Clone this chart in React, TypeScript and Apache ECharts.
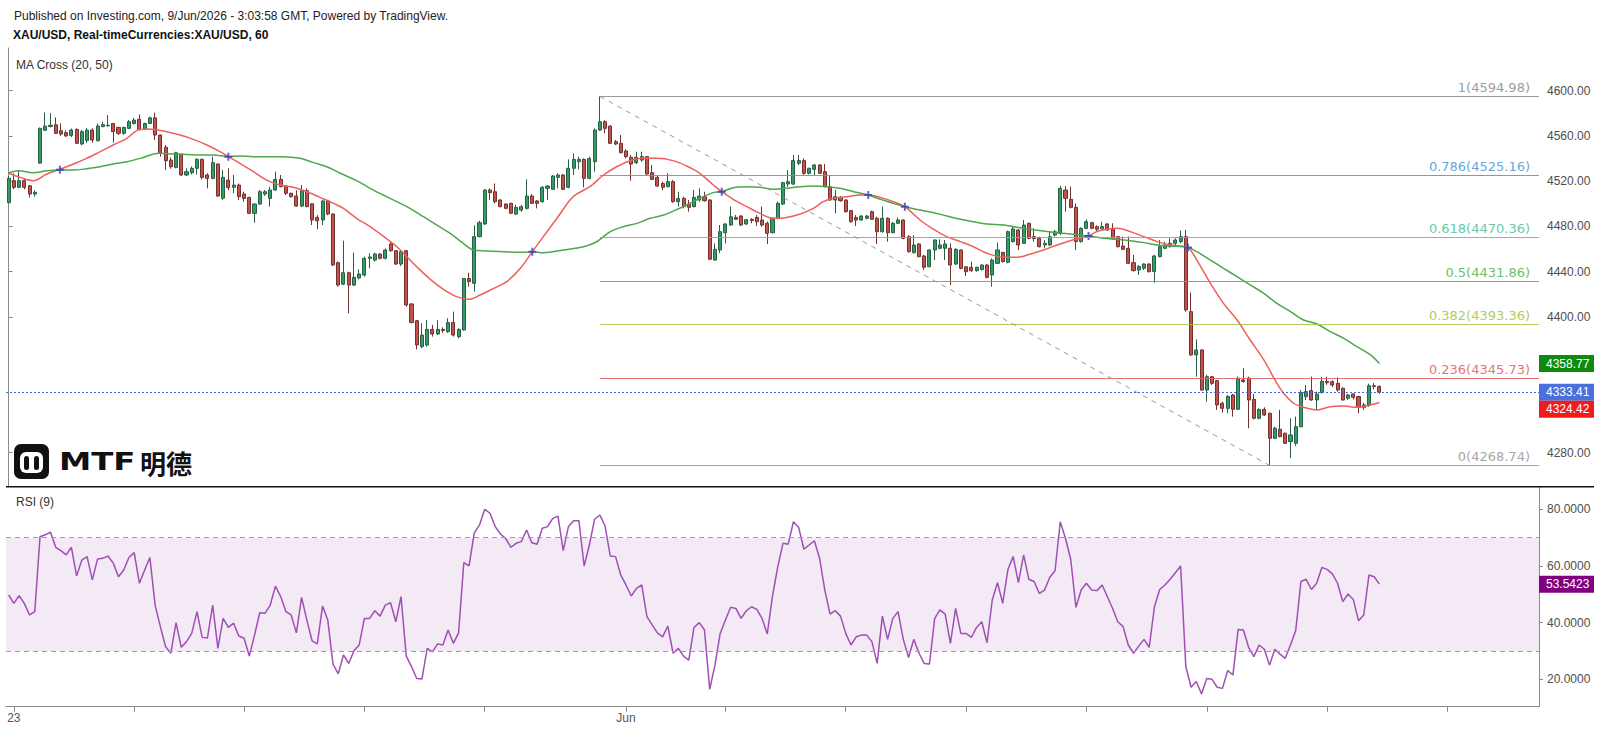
import React, { useEffect, useRef } from 'react';
import * as echarts from 'echarts';

// ---------- layout constants ----------
const SLOT_COUNT = 293; // hourly slots across the plot (incl. empty right margin)
const X_TICKS = [1, 24, 45, 68, 91, 118, 137, 160, 183, 206, 229, 252, 275];
const X_LABELS: Record<number, string> = { 1: '23', 118: 'Jun' };

const PRICE_MIN = 4249.94;
const PRICE_MAX = 4637.75;
const PRICE_TICKS = [4280, 4400, 4440, 4480, 4520, 4560, 4600];
const RSI_MIN = 10.33;
const RSI_MAX = 87.98;
const RSI_TICKS = [20, 40, 60, 80];

// ---------- data ----------
// hourly candles: [open, high, low, close]
const OHLC: number[][] = [
  [4501, 4524.6, 4500.5, 4522.5], [4520.5, 4527, 4512.8, 4514.6], [4514.6, 4529.9, 4513.7, 4520.5], [4520.5, 4522.5, 4512.8, 4514.6],
  [4516, 4516.5, 4505.7, 4508.7], [4508.7, 4512, 4506.3, 4510.2], [4536, 4567.5, 4535.5, 4566.7], [4565, 4580.6, 4564.5, 4568.7],
  [4568.3, 4580, 4567.6, 4569.5], [4569.9, 4576.4, 4561.7, 4562.3], [4564.6, 4571, 4560, 4561.7], [4562.9, 4565, 4559.3, 4560],
  [4560.5, 4566.6, 4559, 4565.2], [4565.8, 4566.7, 4552.9, 4553.5], [4552.9, 4565.2, 4551.7, 4563.8], [4556, 4567, 4554, 4565],
  [4565.2, 4566.7, 4554, 4556.4], [4555.8, 4571, 4555.3, 4568.8], [4568.3, 4572.6, 4567.6, 4570], [4569, 4578.5, 4568, 4569.5],
  [4571, 4571.5, 4554, 4563.8], [4567.6, 4568, 4560.8, 4562.3], [4562.3, 4568, 4561, 4567.6], [4566.7, 4574, 4566, 4572.6],
  [4571, 4576, 4570, 4574], [4574.7, 4579, 4565, 4565.8], [4565.8, 4571.7, 4565, 4571], [4571, 4577, 4570.5, 4576],
  [4576, 4580.6, 4556.4, 4560.8], [4560.8, 4561.2, 4541.7, 4544.6], [4550, 4552, 4530, 4538.1], [4538.7, 4541, 4531, 4532.8],
  [4532.2, 4546, 4531.4, 4545.2], [4544, 4544.6, 4524.6, 4525.5], [4525.5, 4531.4, 4524.6, 4528.4], [4527.5, 4533, 4526, 4531.4],
  [4531.4, 4540.2, 4526, 4539.3], [4539.3, 4540, 4521.6, 4523.4], [4525.5, 4527, 4513.7, 4522.5], [4522.5, 4541.7, 4521.6, 4536.4],
  [4535.2, 4535.8, 4506.3, 4506.9], [4505, 4530, 4503.4, 4523.4], [4521, 4531.4, 4512.2, 4514.3], [4514.6, 4525.5, 4509.3, 4516.6],
  [4516.6, 4518, 4503.4, 4506.3], [4508.7, 4510.7, 4501.9, 4504.8], [4505.7, 4506.3, 4491, 4491.6], [4491.6, 4500.4, 4483.3, 4499.8],
  [4499.8, 4512.2, 4499, 4510.7], [4508.7, 4512.2, 4507, 4510.7], [4504.8, 4515, 4497.5, 4512.2], [4512.2, 4528.4, 4511.6, 4521.6],
  [4521.6, 4525.5, 4514.6, 4515.2], [4515.7, 4516.6, 4507.8, 4509.3], [4509.3, 4509.9, 4505.7, 4506.3], [4506.9, 4512, 4497.5, 4498],
  [4498, 4516.6, 4497, 4511.6], [4511.6, 4513.7, 4497, 4497.5], [4500, 4500.5, 4481.3, 4485.7], [4488, 4490, 4477.5, 4485],
  [4485.7, 4503, 4481.3, 4502.5], [4502.5, 4503, 4490, 4491], [4491, 4491.6, 4445, 4446], [4448, 4449, 4426.8, 4428.2],
  [4429, 4467.4, 4428.2, 4439.1], [4439.1, 4440, 4403.2, 4428.2], [4428.2, 4456.8, 4427.3, 4435], [4434.5, 4442, 4433.2, 4438],
  [4437, 4453.3, 4435.6, 4451.8], [4451.8, 4456.2, 4443, 4453], [4450.3, 4456.8, 4448.9, 4455.6], [4455.6, 4456.2, 4450.9, 4451.8],
  [4451.8, 4460.6, 4450.9, 4459.2], [4464.5, 4466.5, 4457.7, 4458.6], [4458.6, 4459.2, 4445.9, 4446.8], [4446.8, 4459.2, 4445, 4457.7],
  [4458.6, 4459.2, 4409.1, 4410.6], [4411.5, 4412, 4394.4, 4395], [4396.7, 4397.3, 4371.4, 4375.2], [4373.7, 4394.4, 4372.3, 4384],
  [4375.2, 4397.3, 4373.7, 4389], [4389, 4392.9, 4382.6, 4384.9], [4385, 4397.3, 4384, 4389], [4389, 4390.8, 4386, 4388],
  [4387, 4398.8, 4386, 4395], [4395, 4404.7, 4382.6, 4384], [4382.6, 4390, 4381, 4389], [4388.5, 4434.5, 4388, 4434],
  [4434, 4439, 4426.8, 4431.2], [4429.7, 4481, 4422.4, 4471], [4471, 4485.1, 4470.4, 4483.3], [4482.2, 4512.8, 4481.3, 4512.2],
  [4512.2, 4513.7, 4503.4, 4509.9], [4510.7, 4518, 4500.4, 4501.9], [4503.4, 4504, 4496.9, 4497.5], [4499.8, 4500.4, 4495.1, 4496],
  [4500.4, 4501, 4491, 4491.6], [4491, 4499, 4490.1, 4496.9], [4494.5, 4499, 4493, 4497.5], [4496, 4521.6, 4495, 4506.9],
  [4506.9, 4508.7, 4499.8, 4500.4], [4502.5, 4503.4, 4496, 4500.4], [4501.9, 4515.7, 4501, 4514.6], [4513.7, 4516.6, 4503.4, 4515.7],
  [4512.8, 4525.5, 4512.2, 4524.6], [4523.4, 4527, 4513.7, 4525.5], [4525.5, 4526.4, 4512.2, 4512.8], [4514.6, 4539.3, 4513.7, 4531.4],
  [4531.4, 4544.6, 4525.5, 4539.3], [4537.2, 4541.7, 4530.5, 4539.3], [4539.3, 4540.2, 4514.6, 4522.5], [4522.5, 4541.7, 4521.6, 4540],
  [4537.2, 4566.7, 4528.4, 4565.2], [4565.2, 4594.98, 4564.6, 4572.6], [4572.6, 4574, 4562.3, 4566.7], [4568.7, 4569.5, 4552.9, 4553.5],
  [4554.9, 4556.4, 4552, 4552.9], [4553.5, 4560.8, 4544.6, 4545.2], [4546.7, 4548.2, 4540.2, 4541.7], [4541.1, 4543.1, 4520.5, 4535.2],
  [4536.4, 4546.1, 4535.2, 4541.1], [4538.7, 4546.1, 4537.2, 4541.7], [4541.7, 4542.3, 4525.5, 4526.4], [4527.5, 4534.3, 4521, 4521.6],
  [4523.4, 4524.6, 4515.2, 4515.7], [4518, 4519.6, 4512.2, 4514.6], [4515.2, 4527, 4514.6, 4519.6], [4519.6, 4521, 4501, 4501.9],
  [4501.9, 4510.7, 4497.5, 4504.8], [4504.8, 4506.3, 4496, 4497.5], [4499.8, 4503.4, 4493, 4496.9], [4497.5, 4512.2, 4496.9, 4505.7],
  [4503.4, 4513.7, 4501.9, 4506.9], [4506.3, 4510.7, 4501.9, 4502.8], [4503.4, 4504, 4450.3, 4451], [4450.3, 4465, 4449.8, 4459.8],
  [4459.2, 4481.3, 4456.3, 4475.4], [4474.5, 4482.8, 4465.1, 4482.2], [4481.3, 4497.5, 4480.4, 4488.6], [4488, 4490.1, 4485.7, 4486.3],
  [4489.2, 4490.1, 4480.4, 4481.3], [4482.2, 4486.3, 4481.3, 4486], [4486.3, 4487.2, 4482.8, 4485.2], [4488, 4490, 4480.4, 4484.2],
  [4485.7, 4497.5, 4479.8, 4481.3], [4482.8, 4484.2, 4464.5, 4473.9], [4474.5, 4488, 4473.9, 4487.2], [4487.2, 4501.9, 4486.3, 4500.4],
  [4499.8, 4519.6, 4499, 4518.7], [4517.5, 4529.9, 4515, 4519.6], [4517.5, 4543.2, 4516.6, 4538.2], [4535.8, 4543.2, 4534.3, 4538.2],
  [4538.2, 4540.2, 4525.5, 4527], [4527, 4532, 4526, 4531.4], [4530.5, 4535.2, 4525.5, 4534.3], [4534.3, 4535.2, 4526.4, 4527],
  [4528.4, 4535.2, 4514.6, 4515.2], [4515.2, 4524.6, 4502.8, 4503.4], [4503.4, 4512.2, 4491.6, 4506.3], [4505.7, 4506.9, 4501.9, 4502.8],
  [4503.4, 4504, 4492.2, 4493.1], [4494, 4494.5, 4483.3, 4484.2], [4488, 4490.1, 4480.4, 4485.7], [4485.7, 4490, 4485, 4489.2],
  [4487.2, 4490.1, 4486.3, 4489.2], [4493.1, 4494, 4485.7, 4486.3], [4487.2, 4488.6, 4464.5, 4475.4], [4475.4, 4497.5, 4474.5, 4487.2],
  [4487.2, 4488, 4466.6, 4474.5], [4474.5, 4484, 4474, 4482.8], [4482.8, 4488, 4482.2, 4485.7], [4485.7, 4486.3, 4468.6, 4469.5],
  [4471, 4472.4, 4456.8, 4457.7], [4456.8, 4472.4, 4456.3, 4463.6], [4464.5, 4465.1, 4452.7, 4453.3], [4453.9, 4454.8, 4441.5, 4443.9],
  [4444.4, 4459.8, 4443.9, 4459.2], [4459.2, 4468.6, 4450.3, 4468], [4460.7, 4468.6, 4459.8, 4463.6], [4460.7, 4468, 4450.3, 4464.5],
  [4460.7, 4465.1, 4428.2, 4445.9], [4446.8, 4460.7, 4445.9, 4459.8], [4459.2, 4459.8, 4442.1, 4443], [4444.4, 4444.9, 4436.2, 4440],
  [4443.9, 4448.9, 4440, 4440.9], [4440.9, 4444.4, 4440, 4443.9], [4442, 4446.5, 4441, 4445.9], [4445.9, 4446.8, 4434.1, 4435],
  [4437.1, 4451.8, 4426.8, 4450.3], [4447.4, 4465.7, 4446.8, 4459.2], [4457, 4457.7, 4448, 4449], [4448.3, 4476.3, 4447.4, 4475.4],
  [4466.6, 4479.8, 4465.7, 4477.8], [4476.9, 4477.5, 4459.2, 4463.6], [4465, 4485.7, 4464.5, 4481.3], [4482.8, 4483.3, 4468.6, 4469.5],
  [4471, 4478.3, 4466.6, 4469.3], [4469.5, 4471, 4461.5, 4462.1], [4463.6, 4468, 4460.7, 4465.1], [4463.6, 4475.4, 4462.7, 4471],
  [4472.4, 4476.9, 4471, 4475.4], [4473.9, 4515.7, 4472.4, 4513.7], [4512.2, 4515.7, 4493.1, 4504.9], [4504, 4515.2, 4496, 4496.9],
  [4496.9, 4500.4, 4459.2, 4466.6], [4466.6, 4479.2, 4465.7, 4478.3], [4478.3, 4486.3, 4477.5, 4484.2], [4483.3, 4484.2, 4477.5, 4478.3],
  [4479.8, 4481, 4476, 4477.5], [4477.9, 4484.2, 4477.5, 4479.9], [4482.2, 4482.8, 4476, 4476.9], [4477.5, 4482.8, 4468.6, 4469.5],
  [4471, 4471.6, 4461.5, 4462.1], [4462.7, 4471, 4459.2, 4459.8], [4460.7, 4471, 4446.8, 4447.4], [4448, 4454.8, 4440.1, 4441],
  [4441.5, 4445.9, 4437.1, 4444.5], [4443, 4447.4, 4441.5, 4446.8], [4446.8, 4447.4, 4439.2, 4440.1], [4440.1, 4454.8, 4430.3, 4453.9],
  [4453.3, 4468, 4452.7, 4462.1], [4460.7, 4466.6, 4459.8, 4463.6], [4462.1, 4469.5, 4461.5, 4465.1], [4465.1, 4469.5, 4463.6, 4468],
  [4466.6, 4476.3, 4465.1, 4471], [4471, 4476.9, 4404.7, 4406.2], [4404.7, 4421.5, 4365.5, 4366.4], [4366.4, 4380.2, 4347.2, 4370.8],
  [4370.8, 4371.4, 4334.8, 4335.4], [4335.4, 4348.8, 4325.1, 4347.2], [4347.2, 4347.8, 4339.9, 4341.3], [4343.7, 4344.3, 4317.8, 4322.2],
  [4323.7, 4325.1, 4315.4, 4319.2], [4319.2, 4331, 4314.8, 4329.6], [4331, 4332, 4311.9, 4318.3], [4318.3, 4347.2, 4317.8, 4345.8],
  [4344.3, 4354.6, 4341.9, 4342.8], [4345.8, 4347.2, 4301.6, 4326.6], [4327.2, 4332, 4309.5, 4310.4], [4310.4, 4319.2, 4309.5, 4318.3],
  [4318.3, 4320.1, 4312.5, 4313.3], [4314.8, 4315.4, 4268.74, 4292.7], [4292.7, 4303, 4292, 4301.6], [4300.7, 4317.8, 4293.6, 4294.2],
  [4297.2, 4297.8, 4287.7, 4288.3], [4289.8, 4310.4, 4275.1, 4295.7], [4288.3, 4311.9, 4286, 4303], [4303, 4335.4, 4302.4, 4333.1],
  [4329.6, 4339.9, 4326.6, 4334], [4334.9, 4347.2, 4326, 4326.6], [4326.6, 4334, 4317.8, 4331.9], [4333.1, 4347.2, 4332.5, 4343.1],
  [4343.1, 4347.2, 4340, 4341.9], [4342.8, 4344, 4338, 4339.9], [4341.3, 4346.6, 4334, 4335.4], [4336.9, 4337.8, 4326, 4326.6],
  [4328.1, 4332, 4326.6, 4331], [4331.9, 4332.5, 4327, 4329], [4329.6, 4330.3, 4314.8, 4320.1], [4320.1, 4324, 4317.8, 4322.2],
  [4322.2, 4341, 4320.5, 4339.2], [4339.2, 4341.5, 4336, 4338.5], [4338.5, 4339.5, 4332, 4333.41],
];

// moving averages: [bar number (1-based), value]
const MA20_POINTS: number[][] = [
  [1, 4527], [3.2, 4523.4], [5.7, 4520.5], [8.3, 4526.4], [10.8, 4530.5], [13.4, 4535.2], [15.9, 4540.2], [18.5, 4546.1],
  [21, 4552], [23.6, 4557.9], [25.5, 4564.7], [27.4, 4566.1], [29, 4565.8], [31.2, 4563.8], [33.8, 4560.8], [36.3, 4557],
  [38.9, 4552], [41.4, 4546.1], [43, 4541.7], [45.2, 4535.8], [47.8, 4528.4], [50.3, 4521], [52.9, 4516.6], [55.4, 4514.6],
  [58, 4510.7], [60.5, 4505.7], [63.1, 4500.4], [65, 4496], [67.5, 4487.2], [70.1, 4479.8], [72.6, 4471.4], [75.2, 4462.1],
  [77.1, 4453.3], [79, 4444.4], [81.6, 4433.2], [84.1, 4424.4], [86.6, 4418], [88.9, 4415.6], [91.1, 4419.4], [93.7, 4425.3],
  [96.2, 4431.2], [98.8, 4443], [101.1, 4457.7], [103.2, 4471], [105.8, 4487.2], [108.3, 4503.4], [109.6, 4508.7], [112.1, 4515.2],
  [114.7, 4525.5], [117.2, 4532.8], [119.8, 4538.1], [122.3, 4540.2], [124.9, 4540.2], [128, 4538.2], [130.6, 4533.4], [133.1, 4527],
  [135.7, 4516.6], [137.3, 4510.7], [139.5, 4504], [142.1, 4497.5], [144.6, 4491.6], [147.2, 4487.2], [149.7, 4488], [152.3, 4491],
  [154.8, 4496], [156.7, 4501.9], [158.6, 4504.9], [161.2, 4506.3], [163.7, 4507.8], [165.3, 4507.8], [167.6, 4505.7], [170.1, 4501.9],
  [172.3, 4497.5], [175.2, 4485.7], [177.8, 4477.4], [180.3, 4471], [182.9, 4466.6], [185.4, 4462.1], [188, 4456.3], [191.2, 4452.7],
  [193.7, 4452.7], [196.3, 4455.6], [198.8, 4459.2], [201.4, 4463.6], [203.9, 4467.4], [205.8, 4469.5], [207.4, 4471.6], [209, 4475.4],
  [210.9, 4477.5], [212.9, 4478.3], [215.4, 4475.4], [218, 4471], [220.5, 4466.6], [223, 4463.6], [225, 4462.7], [226.4, 4461.5],
  [228.1, 4450.3], [230.7, 4429.7], [233.2, 4412], [235.8, 4397.3], [238.3, 4379.6], [240.9, 4362], [243.4, 4341.3], [244.7, 4332.5],
  [246.6, 4323.7], [248.5, 4320.1], [251.1, 4317.8], [253.6, 4320.7], [256.2, 4321.3], [258.7, 4320.1], [261.3, 4322.2], [263, 4324.42],
];
const MA50_POINTS: number[][] = [
  [1, 4527.5], [2.9, 4529.3], [5.7, 4527.5], [8.3, 4529.3], [10.8, 4529.9], [13.4, 4529.9], [15.9, 4531], [18.5, 4532.8],
  [21, 4535.2], [23.6, 4537.2], [26.1, 4540.2], [28.7, 4544], [29.9, 4544.6], [32.5, 4544], [35, 4543.7], [37.6, 4543.1],
  [40.1, 4543.1], [43, 4541.7], [45.2, 4542.3], [47.8, 4541.7], [50.3, 4541.7], [53.5, 4541.7], [56.7, 4540.2], [59.3, 4536.4],
  [61.8, 4532.8], [64.4, 4527], [67.5, 4520.5], [70.1, 4513.7], [72.6, 4507.8], [75.2, 4501.9], [77.7, 4496], [80.3, 4488.6],
  [82.8, 4481.3], [85.4, 4473.9], [87.9, 4465.1], [89.8, 4459.2], [92.4, 4458.3], [95.6, 4457.7], [99.4, 4457.1], [101.1, 4457.7],
  [103.2, 4456.8], [107, 4459.2], [110.9, 4462.1], [113.4, 4466.5], [116, 4475.4], [118.5, 4479.8], [121.1, 4482.7], [123.6, 4487.2],
  [126.2, 4490.1], [128, 4493.5], [130.6, 4499], [133.1, 4504.9], [135.7, 4509.9], [137.3, 4510.7], [139.5, 4514.3], [142.1, 4515.2],
  [144.6, 4514.6], [147.2, 4512.8], [149.7, 4513.7], [152.3, 4515.2], [154.8, 4515.8], [157.4, 4515.2], [159.9, 4513.7], [162.5, 4510.7],
  [165.3, 4507.8], [167.6, 4504], [170.1, 4500.4], [172.3, 4497.5], [175.2, 4494.5], [177.8, 4492.2], [180.3, 4489.2], [182.9, 4486.3],
  [185.4, 4484.2], [188, 4482.2], [191.2, 4481.3], [193.7, 4479.2], [196.3, 4477.5], [198.8, 4476], [201.4, 4474.5], [203.9, 4473.3],
  [207.4, 4471.6], [210.3, 4469.5], [212.9, 4468.6], [215.4, 4467.4], [218, 4465.7], [220.5, 4463.6], [223, 4462.7], [226.4, 4461.5],
  [228.1, 4457.7], [230.7, 4450.3], [233.2, 4443], [235.8, 4435.6], [238.3, 4428.3], [240.9, 4420.9], [243.4, 4412], [246, 4404.7],
  [248.5, 4397.3], [251.1, 4393.8], [253.6, 4387], [256.2, 4381.1], [258.7, 4373.7], [261.3, 4366.4], [263, 4358.77],
];
// MA cross markers: [bar number, price]
const CROSS_POINTS: number[][] = [
  [10.8, 4530.2], [43, 4541.7], [101.1, 4457.7], [137.3, 4510.7], [165.3, 4507.8], [172.3, 4497.5], [207.4, 4471.6], [226.4, 4461.5],
];

// RSI(9), one value per candle
const RSI: number[] = [
  49.8, 46.8, 49.5, 46.8, 42.7, 43.9, 70.3, 71, 71.9, 66.6, 65.4, 63.9, 66.6, 56.5, 62.1, 63.3, 55.1, 62.5, 62.7, 63.5,
  61, 56.2, 58.6, 63, 64.7, 53.9, 58.6, 63, 46.2, 38.6, 31.5, 29.2, 40, 31.3, 33.3, 36.2, 43.9, 34.8, 34.6, 46.2,
  30.9, 41.5, 38.3, 39.8, 35.3, 34.5, 28.2, 35.6, 43.5, 43.3, 46.2, 52.9, 49.2, 43.9,
  42.7, 36.4, 48.9, 40.9, 33.6, 32.5, 45.9, 40.9, 25.4, 21.9, 28.6, 25.6, 30.1, 32.1, 41.5, 41.5, 44.2, 42.3, 46.2, 47,
  40.3, 49.2, 28.2, 24.5, 20.3, 20.1, 30.9, 29.7, 32.5, 32.1, 37.4, 32.7, 36.4, 61.2, 60, 71.7, 74.5, 80, 78.6, 73.9,
  71.3, 69.7, 66.6, 68, 68.6, 72.7, 68.2, 67.7, 73.3, 73.9, 76.8, 77.6, 65.4, 73.9, 76, 76, 60, 67.4, 76.5, 78,
  74.1, 63.5, 63.3, 56.8, 53.3, 49.4, 52.1, 53.3, 42.1, 39.2, 36.4, 35, 38.8, 29.2, 30.9, 28.2, 26.8, 38.3, 40, 37.4,
  16.5, 25, 36.2, 40.9, 45.4, 45, 41.5, 44.2, 45.6, 44.7, 41.5, 36, 49.4, 59.7, 68, 67.7, 75.6, 73.6, 65.9, 67.4,
  68.9, 62.7, 51.5, 43, 44.2, 42.3, 36.2, 32.1, 35, 35.6, 35.6, 33.3, 25.6, 42.3, 34.1, 41.5, 43.9, 34.1, 27.7, 34.1,
  29.2, 25.6, 25.4, 41.5, 44.5, 43, 32.7, 45, 36.2, 36.2, 34.8, 38.3, 40.3, 32.9, 48, 54.1, 46.8, 58.8, 63.3, 54.1,
  63.9, 55.3, 54.5, 50.3, 51.5, 56, 58.3, 75.6, 69.7, 62.3, 45.4, 51.5, 53.9, 51.5, 51.3, 53.3, 49.2, 45,
  40.3, 38.6, 32.1, 29.2, 31.7, 34.1, 31.3, 45.6, 51.7, 53.3, 55.3, 57.6, 60, 24.5, 17.2, 19.2, 14.8, 20.3, 20, 17.2,
  16.8, 23.1, 21.5, 37.6, 37.4, 31.3, 28, 32.1, 30.6, 25, 30.6, 28.9, 27.4, 32.1, 37.2, 54.5, 55.3, 51.7, 53.9, 59.5,
  58.8, 57.2, 53.9, 47.4, 50.1, 48.2, 40.7, 42.7, 56.8, 56.2, 53.6,
];

// Fibonacci retracement between swing high (bar 114) and swing low (bar 242)
const FIB_START_BAR = 114;
const FIB_END_BAR = 242;
const FIB_LEVELS = ['1', '0.786', '0.618', '0.5', '0.382', '0.236', '0'];
const FIB_PRICES = [4594.98, 4525.16, 4470.36, 4431.86, 4393.36, 4345.73, 4268.74];
const FIB_COLORS = ['#8f8f8f', '#4f9bd6', '#4fc4a2', '#57b657', '#a6c64a', '#df6464', '#9a9a9a'];

const LAST_PRICE = 4333.41;
const MA50_LAST = 4358.77;
const MA20_LAST = 4324.42;
const RSI_LAST = 53.5423;

const FONT = '"Liberation Sans", Arial, sans-serif';

export default function App() {
  const ref = useRef<HTMLDivElement>(null);

  useEffect(() => {
    const el = ref.current;
    if (!el) return;
    const chart = echarts.init(el, null, { renderer: 'svg', width: 1600, height: 734 });

    const categories = Array.from({ length: SLOT_COUNT }, (_, i) => X_LABELS[i] ?? String(i));
    const candleData = OHLC.map(([o, h, l, c]) => [o, c, l, h]);
    const toXY = (pts: number[][]) => pts.map(([b, v]) => [b - 1, v]);

    const fibLines: any[] = FIB_LEVELS.map((lv, i) => [
      {
        coord: [FIB_START_BAR - 1, FIB_PRICES[i]],
        lineStyle: { color: FIB_COLORS[i], width: 1, type: 'solid', opacity: 0.9 },
        label: {
          show: true,
          position: 'insideEndTop',
          formatter: `${lv}(${FIB_PRICES[i].toFixed(2)})`,
          color: FIB_COLORS[i],
          fontSize: 13,
          fontFamily: '"DejaVu Sans", Verdana, sans-serif',
          distance: [9, 2],
        },
      },
      { coord: [SLOT_COUNT - 0.5, FIB_PRICES[i]] },
    ]);
    fibLines.push([
      {
        coord: [FIB_START_BAR - 1, FIB_PRICES[0]],
        lineStyle: { color: '#9a9a9a', width: 1, type: [5, 5] },
        label: { show: false },
      },
      { coord: [FIB_END_BAR - 1, FIB_PRICES[6]] },
    ]);

    const option: any = {
      animation: false,
      backgroundColor: '#ffffff',
      textStyle: { fontFamily: FONT },
      grid: [
        { left: 6, right: 61, top: 48, height: 438.7 },
        { left: 6, right: 61, top: 486.7, height: 220 },
      ],
      xAxis: [
        { type: 'category', gridIndex: 0, data: categories, boundaryGap: true, show: false },
        {
          type: 'category',
          gridIndex: 1,
          data: categories,
          boundaryGap: true,
          axisLine: { show: true, lineStyle: { color: '#8a8a8a', width: 1 } },
          axisTick: {
            show: true,
            alignWithLabel: true,
            length: 5,
            interval: (idx: number) => X_TICKS.includes(idx),
            lineStyle: { color: '#8a8a8a' },
          },
          axisLabel: {
            show: true,
            interval: (idx: number) => X_LABELS[idx] !== undefined,
            formatter: (_v: string, idx: number) => X_LABELS[idx] ?? '',
            color: '#555555',
            fontSize: 12,
            fontFamily: FONT,
            margin: 5,
          },
          splitLine: { show: false },
        },
        { type: 'value', gridIndex: 0, min: -0.5, max: SLOT_COUNT - 0.5, show: false },
      ],
      yAxis: [
        {
          type: 'value',
          gridIndex: 0,
          position: 'right',
          min: PRICE_MIN,
          max: PRICE_MAX,
          splitLine: { show: false },
          axisLine: { show: true, lineStyle: { color: '#8a8a8a' } },
          axisTick: { show: true, length: 4, customValues: PRICE_TICKS, lineStyle: { color: '#8a8a8a' } },
          axisLabel: {
            customValues: PRICE_TICKS,
            formatter: (v: number) => v.toFixed(2),
            color: '#4d4d4d',
            fontSize: 12,
            fontFamily: FONT,
            margin: 8,
          },
        },
        {
          type: 'value',
          gridIndex: 1,
          position: 'right',
          min: RSI_MIN,
          max: RSI_MAX,
          splitLine: { show: false },
          axisLine: { show: true, lineStyle: { color: '#8a8a8a' } },
          axisTick: { show: true, length: 4, customValues: RSI_TICKS, lineStyle: { color: '#8a8a8a' } },
          axisLabel: {
            customValues: RSI_TICKS,
            formatter: (v: number) => v.toFixed(4),
            color: '#4d4d4d',
            fontSize: 12,
            fontFamily: FONT,
            margin: 8,
          },
        },
      ],
      series: [
        {
          name: 'XAU/USD',
          type: 'candlestick',
          xAxisIndex: 0,
          yAxisIndex: 0,
          data: candleData,
          barWidth: '68%',
          itemStyle: {
            color: '#2f9d66',
            color0: '#c3514b',
            borderColor: '#2b5e44',
            borderColor0: '#6f3430',
            borderWidth: 1,
          },
          markLine: {
            silent: true,
            symbol: ['none', 'none'],
            data: [
              { yAxis: LAST_PRICE, lineStyle: { color: '#3f68de', type: [2, 2], width: 1 }, label: { show: false } },
            ],
          },
          z: 2,
        },
        {
          name: 'MA20',
          type: 'line',
          xAxisIndex: 2,
          yAxisIndex: 0,
          data: toXY(MA20_POINTS),
          smooth: 0.35,
          symbol: 'none',
          lineStyle: { color: '#ef5f5c', width: 1.5 },
          z: 3,
        },
        {
          name: 'MA50',
          type: 'line',
          xAxisIndex: 2,
          yAxisIndex: 0,
          data: toXY(MA50_POINTS),
          smooth: 0.35,
          symbol: 'none',
          lineStyle: { color: '#4ea64e', width: 1.5 },
          z: 3,
          markLine: { silent: true, symbol: ['none', 'none'], data: fibLines },
        },
        {
          name: 'Cross',
          type: 'scatter',
          xAxisIndex: 2,
          yAxisIndex: 0,
          data: toXY(CROSS_POINTS),
          symbol: 'path://M3,0H5V3H8V5H5V8H3V5H0V3H3Z',
          symbolSize: 8,
          itemStyle: { color: '#3b3bbd' },
          z: 4,
        },
        {
          name: 'RSI',
          type: 'line',
          xAxisIndex: 1,
          yAxisIndex: 1,
          data: RSI,
          symbol: 'none',
          lineStyle: { color: '#a04fb4', width: 1.5 },
          markArea: {
            silent: true,
            itemStyle: { color: 'rgba(160, 80, 180, 0.12)' },
            data: [[{ yAxis: 30 }, { yAxis: 70 }]],
          },
          markLine: {
            silent: true,
            symbol: ['none', 'none'],
            lineStyle: { color: '#9e9e9e', type: [5, 4], width: 1 },
            label: { show: false },
            data: [{ yAxis: 70 }, { yAxis: 30 }],
          },
        },
      ],
    };

    chart.setOption(option);

    const py = (v: number) => chart.convertToPixel({ yAxisIndex: 0 }, v) as number;
    const ry = (v: number) => chart.convertToPixel({ yAxisIndex: 1 }, v) as number;
    const BH = 17;
    const yGreen = py(MA50_LAST);
    const yBlue = py(LAST_PRICE);
    const yRed = Math.max(py(MA20_LAST), yBlue + BH);
    const yRsi = ry(RSI_LAST);

    const badge = (yc: number, fill: string, text: string) => [
      { type: 'rect', shape: { x: 1539, y: yc - BH / 2, width: 55, height: BH }, style: { fill }, z: 100 },
      {
        type: 'text',
        style: { text, x: 1546, y: yc, fill: '#ffffff', font: `12px ${FONT}`, verticalAlign: 'middle', align: 'left' },
        z: 101,
      },
    ];

    const txt = (text: string, x: number, y: number, font: string, fill = '#222222') => ({
      type: 'text',
      style: { text, x, y, font, fill, verticalAlign: 'middle', align: 'left' },
      z: 50,
    });

    chart.setOption({
      graphic: [
        txt('Published on Investing.com, 9/Jun/2026 - 3:03:58 GMT, Powered by TradingView.', 14, 16, `12px ${FONT}`),
        txt('XAU/USD, Real-timeCurrencies:XAU/USD, 60', 13, 35, `bold 12px ${FONT}`, '#111111'),
        txt('MA Cross (20, 50)', 16, 65, `12px ${FONT}`, '#333333'),
        txt('RSI (9)', 16, 502, `12px ${FONT}`, '#333333'),
        // pane separator
        { type: 'line', shape: { x1: 6, y1: 486.7, x2: 1594, y2: 486.7 }, style: { stroke: '#111111', lineWidth: 1.5 }, z: 60 },
        // logo
        { type: 'rect', shape: { x: 14, y: 444, width: 35, height: 35, r: 7 }, style: { fill: '#111111' }, z: 60 },
        { type: 'rect', shape: { x: 20, y: 452, width: 23, height: 21, r: 6 }, style: { fill: '#ffffff' }, z: 61 },
        { type: 'rect', shape: { x: 24, y: 456, width: 5, height: 14, r: 2.5 }, style: { fill: '#111111' }, z: 62 },
        { type: 'rect', shape: { x: 34, y: 456, width: 5, height: 14, r: 2.5 }, style: { fill: '#111111' }, z: 62 },
        {
          type: 'text',
          x: 59,
          y: 462,
          scaleX: 1.35,
          style: { text: 'MTF', x: 0, y: 0, font: `bold 24px "DejaVu Sans", sans-serif`, fill: '#111111', verticalAlign: 'middle', align: 'left' },
          z: 60,
        },
        {
          type: 'text',
          style: { text: '明德', x: 140, y: 462, font: `bold 26px "Noto Sans CJK SC", sans-serif`, fill: '#111111', verticalAlign: 'middle', align: 'left' },
          z: 60,
        },
        ...badge(yGreen, '#0f8a0f', MA50_LAST.toFixed(2)),
        ...badge(yBlue, '#4a70dc', LAST_PRICE.toFixed(2)),
        ...badge(yRed, '#f01c1c', MA20_LAST.toFixed(2)),
        ...badge(yRsi, '#800080', RSI_LAST.toFixed(4)),
      ],
    });

    return () => chart.dispose();
  }, []);

  return (
    <div
      ref={ref}
      style={{ position: 'absolute', left: 0, top: 0, width: 1600, height: 734, background: '#ffffff' }}
    />
  );
}
